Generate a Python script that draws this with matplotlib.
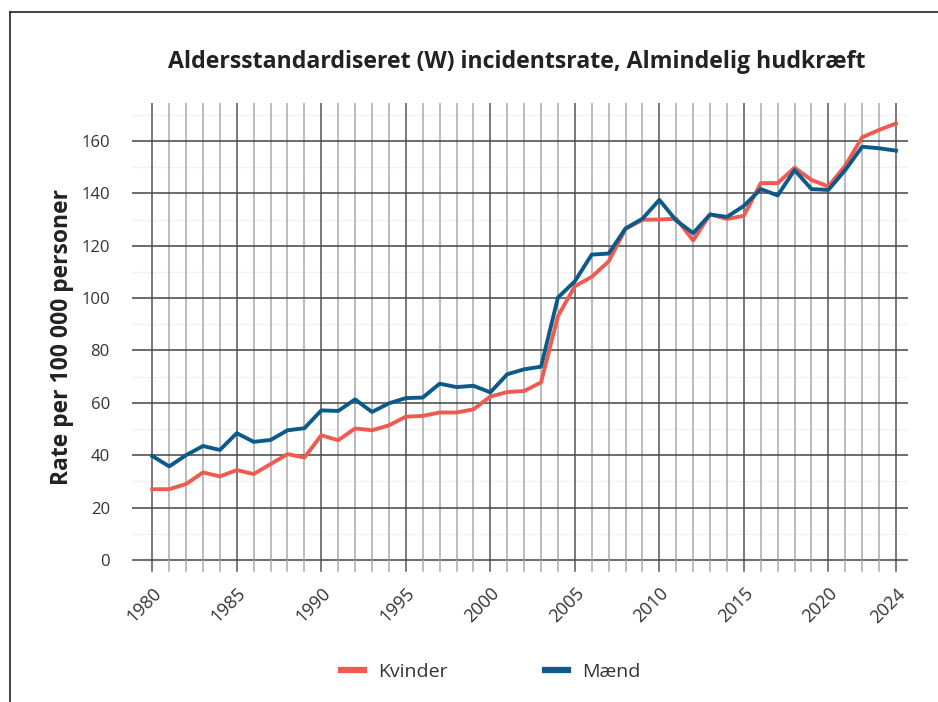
import matplotlib
matplotlib.use("Agg")
import matplotlib.pyplot as plt
from matplotlib.lines import Line2D
from matplotlib.ticker import MultipleLocator

plt.rcParams['font.family'] = ['Open Sans', 'DejaVu Sans']

years = list(range(1980, 2025))
kvinder = [27.0, 27.0, 29.0, 33.4, 31.9, 34.3, 32.8, 36.6, 40.4, 39.1,
           47.6, 45.7, 50.2, 49.5, 51.4, 54.7, 55.0, 56.3, 56.3, 57.5,
           62.4, 64.1, 64.5, 67.8, 93.1, 104.5, 108.1, 114.0, 126.4, 129.9,
           130.0, 130.3, 122.0, 132.0, 130.2, 131.4, 143.9, 143.9, 149.8, 145.1,
           142.6, 150.6, 161.4, 164.2, 166.7]
maend = [39.7, 35.7, 40.0, 43.5, 42.0, 48.4, 45.1, 45.8, 49.5, 50.3,
         57.1, 56.9, 61.3, 56.5, 59.8, 61.8, 62.0, 67.3, 66.0, 66.5,
         64.0, 70.9, 72.8, 73.8, 100.2, 106.4, 116.6, 117.0, 126.6, 130.3,
         137.5, 129.6, 124.8, 131.9, 131.0, 135.2, 141.6, 139.2, 148.9, 141.6,
         141.3, 148.9, 157.8, 157.2, 156.3]
xticks = [1980, 1985, 1990, 1995, 2000, 2005, 2010, 2015, 2020, 2024]

title = "Aldersstandardiseret (W) incidentsrate, Almindelig hudkræft"
ylabel = "Rate per 100 000 personer"

fig = plt.figure(figsize=(9.38, 7.02), dpi=100)
ax = fig.add_axes([0.1407, 0.2009, 0.968 - 0.1407, 0.8533 - 0.2009])

# vertical grid: every year light, every 5 years dark
for y in years:
    if (y - 1980) % 5 == 0 or y == 2024:
        ax.axvline(y, color='#555555', lw=1.1, zorder=1)
    else:
        ax.axvline(y, color='#aaaaaa', lw=1.1, zorder=1)

# horizontal grid
for v in range(10, 171, 20):
    ax.axhline(v, color='#f2f2f2', lw=1.0, zorder=0)
for v in range(0, 161, 20):
    ax.axhline(v, color='#444444', lw=1.1, zorder=1)

ax.plot(years, kvinder, color='#ef5b50', lw=2.8, zorder=3, label='Kvinder')
ax.plot(years, maend, color='#0b5a8a', lw=2.8, zorder=4, label='Mænd')

ax.set_xlim(1980 - 20.3 / 16.91, 2024 + 12 / 16.91)
ax.set_ylim(-0.4, 174.5)
ax.yaxis.set_major_locator(MultipleLocator(20))
ax.set_xticks(xticks)
ax.set_xticklabels([str(x) for x in xticks], rotation=45, ha='right',
                   rotation_mode='anchor', fontsize=13, color='#333333')
ax.tick_params(axis='x', length=0, pad=17)
ax.tick_params(axis='y', length=0, pad=16, labelsize=12, labelcolor='#333333')
for s in ax.spines.values():
    s.set_visible(False)

ax.set_ylabel(ylabel, fontsize=16.5, fontweight='bold', color='#222222', labelpad=5)
ax.yaxis.label.set_y(0.49)
fig.text(0.551, 0.912, title, ha='center', va='center', fontsize=16.7,
         fontweight='bold', color='#222222')

# tick stubs below zero line
for y in years:
    c = '#555555' if ((y - 1980) % 5 == 0 or y == 2024) else '#aaaaaa'
    ax.plot([y, y], [0, -4.2], color=c, lw=1.1, clip_on=False, zorder=1)

leg = fig.legend(loc='center', bbox_to_anchor=(0.523, 0.043), ncol=2, frameon=False,
                 fontsize=14, handlelength=1.2, handletextpad=0.7, columnspacing=5.0)
for h in leg.legend_handles:
    h.set_linewidth(4.5)
for t in leg.get_texts():
    t.set_color('#333333')

# frame on top and left
fig.add_artist(Line2D([10 / 938, 10 / 938], [0, 1 - 12 / 702], transform=fig.transFigure,
                      color='#222222', lw=1.2))
fig.add_artist(Line2D([10 / 938, 1], [1 - 12 / 702, 1 - 12 / 702], transform=fig.transFigure,
                      color='#222222', lw=1.2))

fig.savefig('out.png', dpi=100)
